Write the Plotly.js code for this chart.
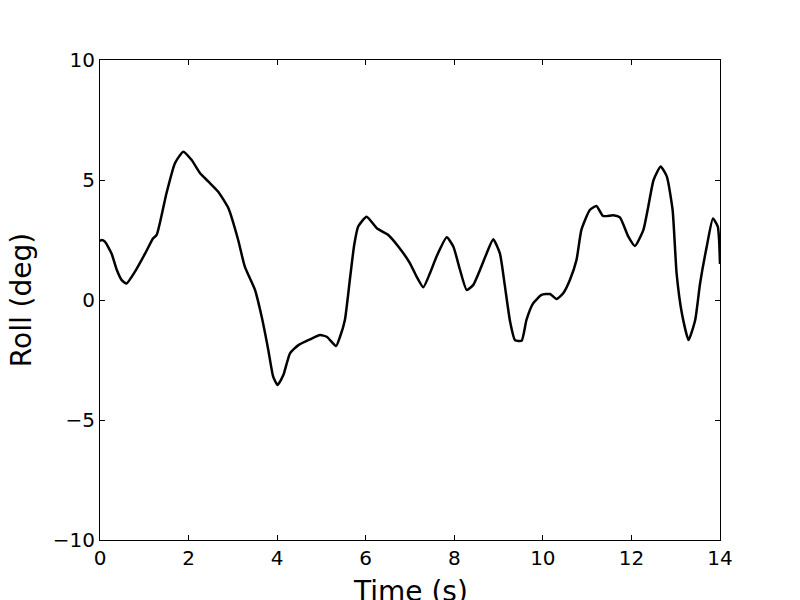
<!DOCTYPE html>
<html>
<head>
<meta charset="utf-8">
<script src="https://cdn.plot.ly/plotly-3.0.1.min.js"></script>
<style>html,body{margin:0;padding:0;background:#fff;}#chart{width:800px;height:600px;}</style>
</head>
<body>
<div id="chart"></div>
<script>
const timeS = [0.0,0.04,0.11,0.26,0.38,0.49,0.6,0.79,1.02,1.2,1.28,1.5,1.69,1.88,2.07,2.26,2.45,2.67,2.9,3.12,3.27,3.5,3.65,3.8,3.91,4.01,4.14,4.29,4.48,4.74,4.97,5.12,5.33,5.42,5.53,5.65,5.74,5.83,6.02,6.25,6.51,6.74,7.0,7.15,7.3,7.45,7.6,7.83,7.98,8.13,8.28,8.43,8.58,8.73,8.88,9.03,9.14,9.26,9.37,9.52,9.63,9.78,9.97,10.16,10.31,10.46,10.61,10.76,10.87,11.06,11.21,11.36,11.59,11.74,11.93,12.08,12.27,12.38,12.5,12.66,12.8,12.93,13.02,13.14,13.29,13.44,13.55,13.7,13.84,13.95,13.98,14.0];
const rollDeg = [2.45,2.5,2.43,1.94,1.25,0.83,0.69,1.18,1.94,2.57,2.71,4.44,5.69,6.18,5.83,5.28,4.93,4.51,3.82,2.5,1.39,0.42,-0.69,-2.08,-3.19,-3.54,-3.13,-2.22,-1.88,-1.64,-1.46,-1.53,-1.92,-1.53,-0.83,0.97,2.29,3.06,3.47,2.99,2.71,2.22,1.53,0.97,0.53,1.11,1.81,2.61,2.22,1.25,0.42,0.63,1.25,1.94,2.53,1.94,0.62,-0.9,-1.67,-1.7,-0.83,-0.14,0.21,0.25,0.04,0.28,0.83,1.67,2.92,3.75,3.92,3.5,3.53,3.44,2.64,2.25,2.92,3.89,5.0,5.56,5.14,3.75,1.11,-0.56,-1.67,-0.83,0.69,2.22,3.4,3.06,2.5,1.5];
const xTicks = [0,2,4,6,8,10,12,14];
const yTicks = [-10,-5,0,5,10];
const xTitle = 'Time (s)';
const yTitle = 'Roll (deg)';

const font = 'DejaVu Sans, sans-serif';
const axisCommon = {
  showgrid:false, zeroline:false, showline:true, linecolor:'#000', linewidth:1,
  mirror:'ticks', ticks:'inside', ticklen:5, tickwidth:1, tickcolor:'#000',
  tickfont:{family:font,size:20,color:'#000'}, automargin:false
};
Plotly.newPlot('chart',[{
  x: timeS, y: rollDeg, type:'scatter', mode:'lines',
  line:{color:'#000', width:2.5, shape:'spline', smoothing:0.5}, hoverinfo:'skip'
}],{
  width:800, height:600,
  margin:{l:100,r:80,t:60,b:60},
  paper_bgcolor:'#fff', plot_bgcolor:'#fff',
  showlegend:false,
  xaxis:Object.assign({}, axisCommon, {range:[0,14], tickvals:xTicks}),
  yaxis:Object.assign({}, axisCommon, {range:[-10,10], tickvals:yTicks,
    title:{text:yTitle, font:{family:font,size:28,color:'#000'}, standoff:12}}),
  annotations:[{
    text:xTitle, xref:'paper', yref:'paper', x:0.5, y:0,
    xanchor:'center', yanchor:'middle', yshift:-51, showarrow:false,
    font:{family:font,size:28,color:'#000'}
  }]
},{staticPlot:true});
</script>
</body>
</html>
